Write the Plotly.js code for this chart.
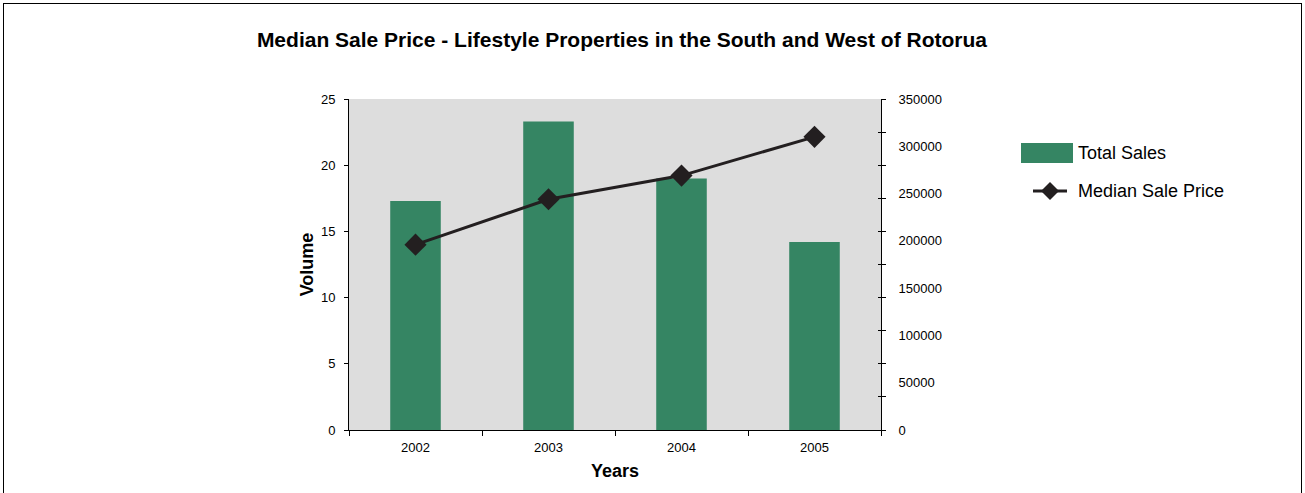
<!DOCTYPE html>
<html><head><meta charset="utf-8">
<script src="https://cdn.plot.ly/plotly-3.0.1.min.js"></script>
<style>
html,body{margin:0;padding:0;background:#fff;}
#chart{position:absolute;left:0;top:0;width:1305px;height:493px;}
#frame{position:absolute;left:3px;top:3px;width:1297px;height:500px;border:1px solid #000;pointer-events:none;}
</style></head>
<body>
<div id="chart"></div>
<div id="frame"></div>
<script>
const years = ['2002', '2003', '2004', '2005'];
const totalSales = [17.3, 23.3, 19.0, 14.2];
const medianPrice = [196000, 244000, 269000, 310000];
const priceTickVals = [0, 50000, 100000, 150000, 200000, 250000, 300000, 350000];
const legendLabels = ['Total Sales', 'Median Sale Price'];

const FONT = 'Arial, "Liberation Sans", sans-serif';
const GREEN = '#358563';
const DARK = '#231f20';

const traces = [
  {
    type: 'bar', name: legendLabels[0], x: years, y: totalSales,
    marker: {color: GREEN}, yaxis: 'y'
  },
  {
    type: 'scatter', mode: 'lines+markers', name: legendLabels[1],
    x: years, y: medianPrice, yaxis: 'y2',
    line: {color: DARK, width: 3},
    marker: {symbol: 'diamond', size: 17, color: DARK}
  },
  {
    type: 'scatter', mode: 'lines', x: years, y: [null, null, null, null],
    yaxis: 'y3', showlegend: false, hoverinfo: 'skip'
  },
  {
    type: 'scatter', mode: 'lines', x: years, y: [null, null, null, null],
    yaxis: 'y4', showlegend: false, hoverinfo: 'skip'
  }
];

// custom legend (paper coordinates relative to plot area)
const px = v => (v - 349) / 532;
const py = v => (430 - v) / 331;
const dcx = 1050, dcy = 191, dh = 9;
const shapes = [
  {type: 'rect', xref: 'paper', yref: 'paper', x0: px(1021), x1: px(1073), y0: py(163), y1: py(143),
   fillcolor: GREEN, line: {width: 0}},
  {type: 'line', xref: 'paper', yref: 'paper', x0: px(1033), x1: px(1067), y0: py(dcy), y1: py(dcy),
   line: {color: DARK, width: 3}},
  {type: 'path', xref: 'paper', yref: 'paper', fillcolor: DARK, line: {width: 0},
   path: `M ${px(dcx)} ${py(dcy - dh)} L ${px(dcx + dh)} ${py(dcy)} L ${px(dcx)} ${py(dcy + dh)} L ${px(dcx - dh)} ${py(dcy)} Z`}
];
const annotations = [
  {xref: 'paper', yref: 'paper', x: px(1076), y: py(153), xanchor: 'left', yanchor: 'middle',
   text: legendLabels[0], showarrow: false, font: {size: 18, color: '#000'}},
  {xref: 'paper', yref: 'paper', x: px(1076), y: py(191), xanchor: 'left', yanchor: 'middle',
   text: legendLabels[1], showarrow: false, font: {size: 18, color: '#000'}}
];

const layout = {
  width: 1305, height: 493,
  margin: {l: 349, r: 424, t: 99, b: 63},
  paper_bgcolor: '#ffffff', plot_bgcolor: '#dddddd',
  font: {family: FONT, size: 13, color: '#000'},
  bargap: 0.62,
  showlegend: false,
  shapes: shapes,
  annotations: annotations,
  title: {
    text: '<b>Median Sale Price - Lifestyle Properties in the South and West of Rotorua</b>',
    font: {family: FONT, size: 21, color: '#000'},
    x: 0.513, xref: 'paper', xanchor: 'center', y: 0.92, yanchor: 'middle'
  },
  xaxis: {
    type: 'category', tickson: 'boundaries', ticks: 'outside', ticklen: 5,
    tickcolor: '#000', showline: true, linecolor: '#000', linewidth: 1,
    showgrid: false, tickfont: {size: 13}, ticklabelstandoff: 5,
    title: {text: '<b>Years</b>', font: {size: 18}, standoff: 10}
  },
  yaxis: {
    range: [0, 25], dtick: 5, ticks: 'outside', ticklen: 4, tickcolor: '#000',
    showline: true, linecolor: '#000', linewidth: 1, showgrid: false, zeroline: false,
    tickfont: {size: 13}, ticklabelstandoff: 6,
    title: {text: '<b>Volume</b>', font: {size: 18}, standoff: 2}
  },
  yaxis2: {
    overlaying: 'y', side: 'right', range: [0, 350000],
    tickvals: priceTickVals, ticktext: priceTickVals.map(String),
    ticks: 'outside', ticklen: 14, tickcolor: 'rgba(0,0,0,0)',
    showline: true, linecolor: '#000', linewidth: 1,
    showgrid: false, zeroline: false, tickfont: {size: 13}
  },
  yaxis3: {
    overlaying: 'y', side: 'right', range: [0, 350000], dtick: 35000,
    ticks: 'outside', ticklen: 4, tickcolor: '#000', showticklabels: false,
    showline: false, showgrid: false, zeroline: false
  },
  yaxis4: {
    overlaying: 'y', side: 'right', range: [0, 350000], dtick: 35000,
    ticks: 'inside', ticklen: 3, tickcolor: '#000', showticklabels: false,
    showline: false, showgrid: false, zeroline: false
  }
};

Plotly.newPlot('chart', traces, layout, {staticPlot: true, displayModeBar: false});
</script>
</body></html>
